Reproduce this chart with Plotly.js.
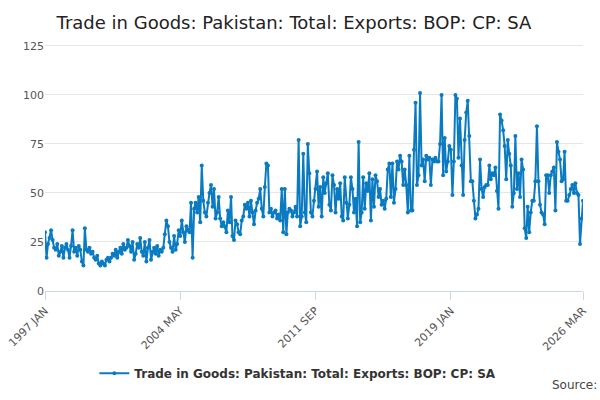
<!DOCTYPE html>
<html>
<head>
<meta charset="utf-8">
<script src="https://cdn.plot.ly/plotly-3.0.1.min.js"></script>
<style>body{margin:0}#chart{width:600px;height:400px}</style>
</head>
<body>
<div id="chart"></div>
<script>
// monthly values (ends 2026 MAR)
const exportsValues = [
  30,17,24,27,31,26,22,21,24,18,20,23,
  17,22,24,21,17,23,31,20,22,18,23,21,
  15,13,32,21,20,22,19,20,17,16,18,14,
  13,15,14,13,16,17,15,17,19,18,21,17,
  20,22,19,24,21,22,26,23,20,25,16,19,
  24,22,27,20,18,25,15,22,26,16,20,22,
  19,23,18,21,20,22,29,36,33,25,22,20,
  28,21,24,31,28,36,30,25,33,31,30,45,
  17,42,45,40,48,35,64,46,40,38,45,50,
  54,43,52,37,40,48,37,33,35,33,30,41,
  35,48,28,26,36,34,30,29,36,38,44,42,
  45,38,46,40,34,41,45,47,52,42,38,53,
  65,64,40,42,38,40,41,37,39,36,52,30,
  52,29,40,42,41,38,40,43,38,77,33,38,
  70,40,35,75,60,40,38,46,52,61,43,53,
  38,58,50,55,60,44,41,59,54,40,52,47,
  55,38,36,58,45,37,44,58,52,40,47,33,
  76,35,40,58,42,55,51,60,36,57,43,59,
  56,48,52,44,46,42,47,62,65,48,65,45,
  52,66,62,69,
  66,54,62,54,40,69,41,41,72,96,54,59,101,64,67,56,69,67,68,54,67,66,68,66,66,75,
  100,59,78,61,66,74,72,49,66,100,98,68,88,64,49,77,91,97,79,56,56,46,37,39,42,67,
  52,48,53,54,54,64,57,60,59,63,51,42,90,87,82,74,57,77,70,64,43,50,79,52,60,48,
  67,62,32,27,43,30,40,46,46,56,84,56,44,40,39,34,59,59,50,59,61,63,41,76,71,67,
  56,57,71,46,46,49,52,54,50,55,50,49,24,37,46
];
const seriesName = 'Trade in Goods: Pakistan: Total: Exports: BOP: CP: SA';
const tickDates = ['1997-01-01', '2004-05-01', '2011-09-01', '2019-01-01', '2026-03-01'];
const tickLabels = ['1997 JAN', '2004 MAY', '2011 SEP', '2019 JAN', '2026 MAR'];

// dates counted back from the last month
const dates = exportsValues.map((v, i) => {
  const back = exportsValues.length - 1 - i;
  const d = new Date(Date.UTC(2026, 2 - back, 1));
  return d.toISOString().slice(0, 10);
});

Plotly.newPlot('chart', [{
  x: dates,
  y: exportsValues,
  name: seriesName,
  type: 'scatter',
  mode: 'lines+markers',
  line: { color: '#0a7bc1', width: 2 },
  marker: { color: '#0a7bc1', size: 4 }
}], {
  width: 600, height: 400,
  font: { family: 'DejaVu Sans, sans-serif', color: '#333' },
  title: { text: seriesName, font: { size: 18, color: '#222' }, x: 0.49, y: 0.96 },
  margin: { l: 45, r: 17, t: 40, b: 107 },
  showlegend: true,
  legend: { orientation: 'h', x: 0.47, xanchor: 'center', y: -0.27, font: { size: 12, color: '#333', weight: 'bold' } },
  xaxis: {
    type: 'date', automargin: false,
    range: ['1997-01-01', '2026-03-01'],
    tickvals: tickDates, ticktext: tickLabels, tickangle: -45,
    tickfont: { size: 11, color: '#555' },
    showgrid: false, ticks: 'outside', tickcolor: '#ccd6eb', ticklen: 8,
    showline: true, linecolor: '#ccd6eb', zeroline: false
  },
  yaxis: {
    range: [0, 128], tickvals: [0, 25, 50, 75, 100, 125], automargin: false,
    tickfont: { size: 11, color: '#555' },
    gridcolor: '#e6e6e6', zeroline: false
  },
  annotations: [{
    text: 'Source:', xref: 'paper', yref: 'paper', x: 1.03, y: -0.41,
    xanchor: 'right', showarrow: false, font: { size: 12, color: '#444' }
  }]
}, { displayModeBar: false });
</script>
</body>
</html>
